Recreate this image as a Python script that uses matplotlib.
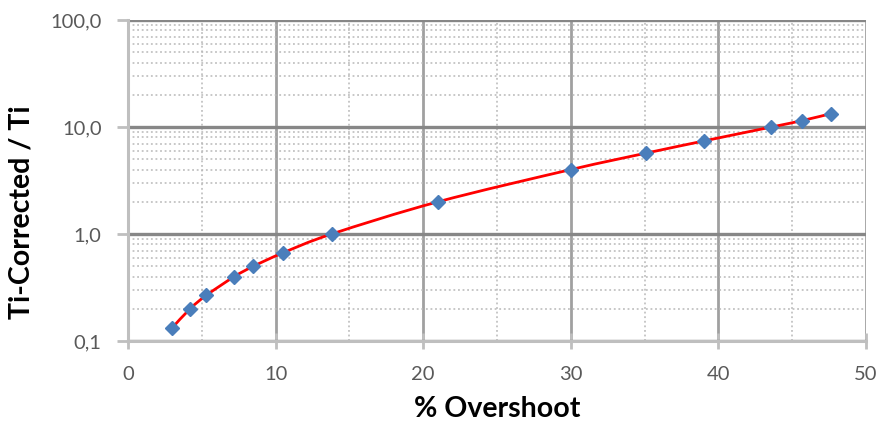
import numpy as np
import matplotlib.pyplot as plt
from matplotlib.path import Path
from matplotlib.patches import PathPatch
from matplotlib.ticker import FixedLocator, FuncFormatter, LogLocator, NullFormatter

plt.rcParams['font.family'] = ['Lato', 'DejaVu Sans']

# overshoot (%) and the correction ratio
overshoot = [3.0, 4.2, 5.3, 7.2, 8.5, 10.5, 13.8, 21.0, 30.0, 35.1, 39.0, 43.6, 45.7, 47.6]
ratio = [0.133, 0.2, 0.267, 0.4, 0.5, 0.667, 1.0, 2.0, 4.0, 5.7, 7.4, 10.0, 11.5, 13.3]

x_ticks = [0, 10, 20, 30, 40, 50]
y_ticks = [0.1, 1, 10, 100]


def smooth_path(xs, ys):
    # cardinal spline through the points, built in (x, log y) and drawn as bezier
    px = np.asarray(xs, float)
    py = np.log10(ys)
    verts = [(px[0], py[0])]
    codes = [Path.MOVETO]
    n = len(px)
    for i in range(n - 1):
        i0 = max(i - 1, 0)
        i3 = min(i + 2, n - 1)
        c1 = (px[i] + (px[i + 1] - px[i0]) / 6, py[i] + (py[i + 1] - py[i0]) / 6)
        c2 = (px[i + 1] - (px[i3] - px[i]) / 6, py[i + 1] - (py[i3] - py[i]) / 6)
        verts += [c1, c2, (px[i + 1], py[i + 1])]
        codes += [Path.CURVE4] * 3
    verts = [(vx, 10 ** vy) for vx, vy in verts]
    return Path(verts, codes)


fig = plt.figure(figsize=(8.8, 4.26), dpi=100)
ax = fig.add_axes([0.1455, 0.1995, 0.8385, 0.7535])
ax.set_yscale('log')
ax.set_xlim(0, 50)
ax.set_ylim(0.1, 100)

ax.xaxis.set_major_locator(FixedLocator(x_ticks))
ax.xaxis.set_minor_locator(FixedLocator([5, 15, 25, 35, 45]))
ax.yaxis.set_major_locator(FixedLocator(y_ticks))
ax.yaxis.set_minor_locator(LogLocator(base=10, subs=np.arange(2, 10)))
ax.yaxis.set_minor_formatter(NullFormatter())
ax.yaxis.set_major_formatter(FuncFormatter(lambda v, p: f'{v:.1f}'.replace('.', ',')))

# grid
ax.grid(which='minor', axis='both', color='#b8b8b8', linestyle=(0, (1.2, 1.8)), linewidth=1.1)
ax.grid(which='major', axis='x', color='#a0a0a0', linewidth=2.0)
ax.grid(which='major', axis='y', color='#878787', linewidth=2.4)
ax.set_axisbelow(True)

for side in ['top', 'right']:
    ax.spines[side].set_visible(False)
for side in ['left', 'bottom']:
    ax.spines[side].set_color('#bfbfbf')
    ax.spines[side].set_linewidth(2.2)

ax.tick_params(which='major', axis='y', direction='out', length=8, width=2, color='#bfbfbf',
               labelsize=14.5, labelcolor='#595959', pad=11)
ax.tick_params(which='major', axis='x', direction='inout', length=12, width=2, color='#bfbfbf',
               labelsize=14.5, labelcolor='#595959', pad=12)
ax.tick_params(which='minor', length=0)

ax.add_patch(PathPatch(smooth_path(overshoot, ratio), facecolor='none', edgecolor='#ff0000',
                       linewidth=2.0, zorder=3))
ax.plot(overshoot, ratio, linestyle='none', marker='D', markersize=7.5,
        markerfacecolor='#4a7ebb', markeredgecolor='#4a7ebb', zorder=4, clip_on=False)

ax.set_xlabel('% Overshoot', fontsize=20.5, fontweight='bold')
ax.set_ylabel('Ti-Corrected / Ti', fontsize=20.5, fontweight='bold')
ax.xaxis.set_label_coords(0.5, -0.172)
ax.yaxis.set_label_coords(-0.127, 0.402)

fig.savefig('out.png', dpi=100)
